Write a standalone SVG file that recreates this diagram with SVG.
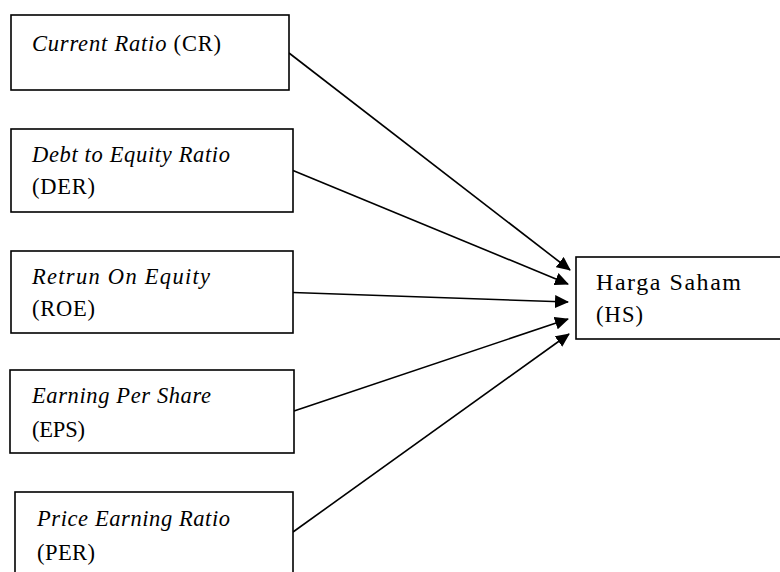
<svg xmlns="http://www.w3.org/2000/svg" width="780" height="572" viewBox="0 0 780 572">
<style>
.box{fill:#fff;stroke:#000;stroke-width:1.6}
.t{font-family:"Liberation Serif","DejaVu Serif",serif;font-size:22.5px;fill:#000}
.i{font-style:italic}
.big{font-size:24px}
.c{stroke:#000;stroke-width:1.6;fill:none;marker-end:url(#ah)}
</style>
<defs>
<marker id="ah" markerWidth="14" markerHeight="13" refX="13" refY="6.5" orient="auto" markerUnits="userSpaceOnUse" viewBox="0 0 14 13">
<path d="M0,0 L14,6.5 L0,13 Z" fill="#000"/>
</marker>
</defs>
<rect width="780" height="572" fill="#fff"/>
<g id="connectors">
<line class="c" x1="289" y1="53" x2="570" y2="270"/>
<line class="c" x1="293" y1="170.5" x2="568" y2="284"/>
<line class="c" x1="293" y1="292.5" x2="568" y2="302"/>
<line class="c" x1="294" y1="411" x2="568" y2="319"/>
<line class="c" x1="293" y1="532" x2="569" y2="334"/>
</g>
<g id="node-cr">
<rect class="box" x="11" y="15" width="278" height="75"/>
<text class="t" x="32" y="51" textLength="189" lengthAdjust="spacing"><tspan class="i">Current Ratio</tspan> (CR)</text>
</g>
<g id="node-der">
<rect class="box" x="11" y="129" width="282" height="83"/>
<text class="t i" x="32" y="162" textLength="198" lengthAdjust="spacing">Debt to Equity Ratio</text>
<text class="t" x="32" y="194" textLength="63" lengthAdjust="spacing">(DER)</text>
</g>
<g id="node-roe">
<rect class="box" x="11" y="251" width="282" height="82"/>
<text class="t i" x="32" y="284" textLength="178" lengthAdjust="spacing">Retrun On Equity</text>
<text class="t" x="32" y="316" textLength="63" lengthAdjust="spacing">(ROE)</text>
</g>
<g id="node-eps">
<rect class="box" x="10" y="370" width="284" height="83"/>
<text class="t i" x="32" y="403" textLength="179" lengthAdjust="spacing">Earning Per Share</text>
<text class="t" x="32" y="437" textLength="53" lengthAdjust="spacing">(EPS)</text>
</g>
<g id="node-per">
<rect class="box" x="15" y="492" width="278" height="100"/>
<text class="t i" x="37" y="526" textLength="193" lengthAdjust="spacing">Price Earning Ratio</text>
<text class="t" x="37" y="560" textLength="58" lengthAdjust="spacing">(PER)</text>
</g>
<g id="node-hs">
<rect class="box" x="576" y="257" width="220" height="82"/>
<text class="t big" x="596" y="290" textLength="145" lengthAdjust="spacing">Harga Saham</text>
<text class="t" x="596" y="322" textLength="47" lengthAdjust="spacing">(HS)</text>
</g>
</svg>
